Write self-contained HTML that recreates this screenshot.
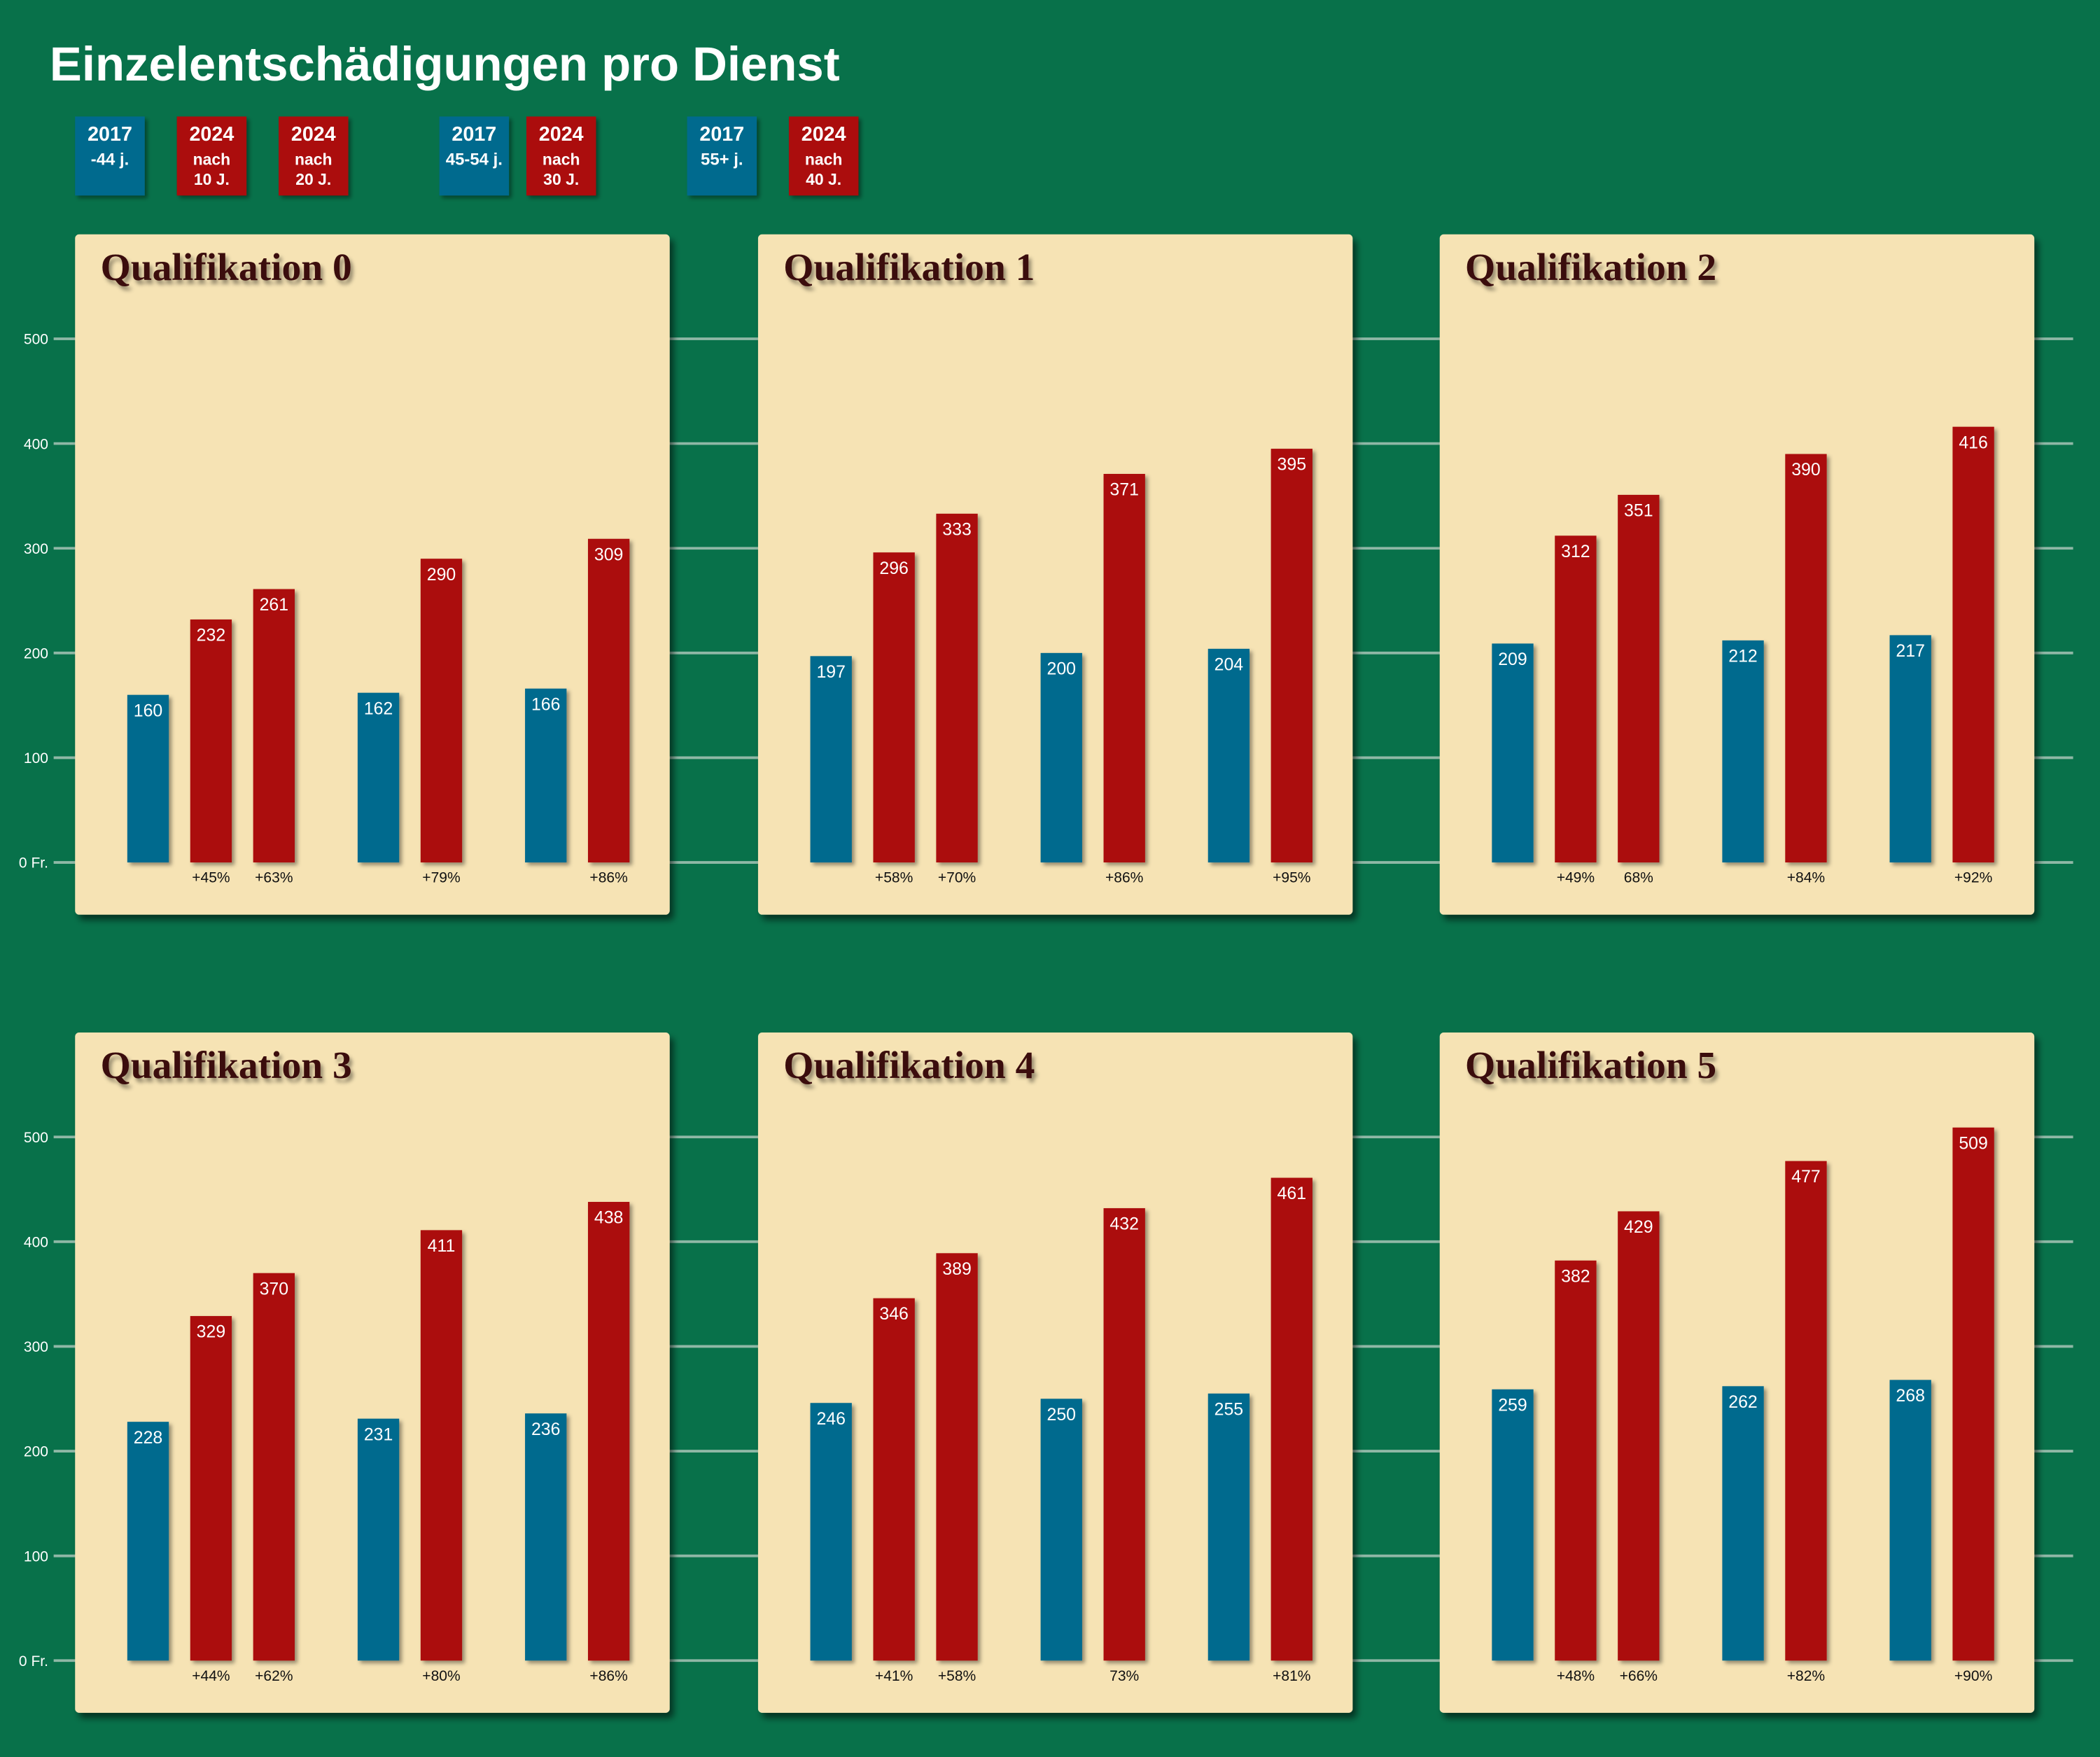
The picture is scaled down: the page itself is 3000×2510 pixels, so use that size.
<!DOCTYPE html>
<html><head><meta charset="utf-8"><style>html,body{margin:0;padding:0;background:#08714a}svg{display:block}</style></head>
<body>
<svg xmlns="http://www.w3.org/2000/svg" width="3000" height="2510" viewBox="0 0 1568 1312">
<defs>
<filter id="sh" x="-5%" y="-5%" width="115%" height="115%"><feDropShadow dx="3" dy="4" stdDeviation="2.5" flood-color="#000" flood-opacity="0.55"/></filter>
<filter id="bs" x="-20%" y="-5%" width="150%" height="115%"><feDropShadow dx="2" dy="2" stdDeviation="1.5" flood-color="#000" flood-opacity="0.4"/></filter>
<filter id="ts" x="-5%" y="-20%" width="115%" height="150%"><feDropShadow dx="2" dy="3" stdDeviation="1.5" flood-color="#000" flood-opacity="0.4"/></filter>
</defs>
<rect width="1568" height="1312" fill="#08714a"/>
<text x="37" y="60" font-family="Liberation Sans, sans-serif" font-weight="bold" font-size="36" fill="#fff" textLength="590" lengthAdjust="spacingAndGlyphs">Einzelentschädigungen pro Dienst</text>
<g font-family="Liberation Sans, sans-serif" font-weight="bold" fill="#fff" text-anchor="middle" id="leg"></g>
<g id="main"></g>
<script>
const NS="http://www.w3.org/2000/svg";
function el(p,t,a,txt){const e=document.createElementNS(NS,t);for(const k in a)e.setAttribute(k,a[k]);if(txt!==undefined)e.textContent=txt;p.appendChild(e);return e;}
const leg=document.getElementById('leg');
const L=[[56,'b',['2017','-44 j.']],[132,'r',['2024','nach','10 J.']],[208,'r',['2024','nach','20 J.']],[328,'b',['2017','45-54 j.']],[393,'r',['2024','nach','30 J.']],[513,'b',['2017','55+ j.']],[589,'r',['2024','nach','40 J.']]];
for(const [x,c,t] of L){el(leg,'rect',{x:x,y:87,width:52,height:59,fill:c=='b'?'#066a8e':'#ab0808',filter:'url(#bs)'});
 el(leg,'text',{x:x+26,y:105,'font-size':15},t[0]);
 if(t.length==2)el(leg,'text',{x:x+26,y:123,'font-size':12.5},t[1]);
 else{el(leg,'text',{x:x+26,y:123,'font-size':12},t[1]);el(leg,'text',{x:x+26,y:138,'font-size':12},t[2]);}}
const m=document.getElementById('main');
const D=[[[160,232,261,162,290,166,309],['+45%','+63%','+79%','+86%']],
[[197,296,333,200,371,204,395],['+58%','+70%','+86%','+95%']],
[[209,312,351,212,390,217,416],['+49%','68%','+84%','+92%']],
[[228,329,370,231,411,236,438],['+44%','+62%','+80%','+86%']],
[[246,346,389,250,432,255,461],['+41%','+58%','73%','+81%']],
[[259,382,429,262,477,268,509],['+48%','+66%','+82%','+90%']]];
const PX=[56,566,1075],BX=[39,86,133,211,258,336,383],COL=['b','r','r','b','r','b','r'];
for(let row=0;row<2;row++){
 const z=row?1240:644, pt=row?771:175;
 for(let i=0;i<=5;i++){const y=z-i*78.2;
  el(m,'line',{x1:40,x2:1548,y1:y,y2:y,stroke:'#8fb8a6','stroke-width':2});
  el(m,'text',{x:36,y:y+4,'font-family':'Liberation Sans, sans-serif','font-size':11,fill:'#fff','text-anchor':'end'},i?String(i*100):'0 Fr.');}
 for(let c=0;c<3;c++){const k=row*3+c,x0=PX[c];
  el(m,'rect',{x:x0,y:pt,width:444,height:508,rx:3,fill:'#f6e3b4',filter:'url(#sh)'});
  el(m,'text',{x:x0+19,y:pt+34,'font-family':'Liberation Serif, serif','font-weight':'bold','font-size':29,fill:'#3a0a0a',filter:'url(#ts)'},'Qualifikation '+k);
  const v=D[k][0];let pi=0;
  for(let j=0;j<7;j++){const h=v[j]*0.782,bx=x0+BX[j];
   el(m,'rect',{x:bx,y:z-h,width:31,height:h,fill:COL[j]=='b'?'#066a8e':'#ab0808',filter:'url(#bs)'});
   el(m,'text',{x:bx+15.5,y:z-h+16,'font-family':'Liberation Sans, sans-serif','font-size':13,fill:'#fff','text-anchor':'middle'},String(v[j]));
   if(COL[j]=='r'){el(m,'text',{x:bx+15.5,y:z+15,'font-family':'Liberation Sans, sans-serif','font-size':11,fill:'#111','text-anchor':'middle'},D[k][1][pi++]);}
  }}}
</script>
</svg>
</body></html>
